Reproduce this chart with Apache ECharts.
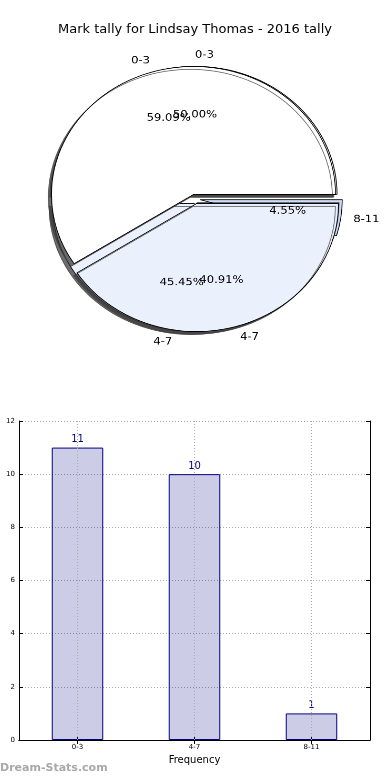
<!DOCTYPE html>
<html>
<head>
<meta charset="utf-8">
<script src="https://cdn.jsdelivr.net/npm/echarts@6/dist/echarts.min.js"></script>
<style>
html,body{margin:0;padding:0;background:#fff;}
#wrap{position:relative;width:390px;height:780px;overflow:hidden;}
#main{position:absolute;left:0;top:0;width:390px;height:780px;}
#pie{position:absolute;left:0;top:0;width:390px;height:400px;
  transform-origin:195px 199px;transform:scale(1.052,0.948);}
</style>
</head>
<body>
<div id="wrap">
  <div id="main"></div>
  <div id="pie"></div>
</div>
<script>
// ---- data ----
const titleText = 'Mark tally for Lindsay Thomas - 2016 tally';
const categories = ['0-3', '4-7', '8-11'];
const tallyCounts = [11, 10, 1];
const priorCategories = ['0-3', '4-7'];
const priorCounts = [13, 9];
const yTickMax = 12;
const yTickStep = 2;
const xAxisName = 'Frequency';
const watermark = 'Dream-Stats.com';

// ---- styles ----
const FONT = 'DejaVu Sans';
const pieColors = ['#ffffff', '#eaf0fc', '#cddcf8'];
const PIE_CENTER = [195, 199];
const PIE_R = 135;
const EXPLODE = 5;

function pieData(names, vals) {
  return names.map((n, i) => ({
    name: n, value: vals[i], selected: true,
    itemStyle: { color: pieColors[i] }
  }));
}
function ghostData(names, vals) {
  return names.map((n, i) => ({ name: n, value: vals[i], selected: true }));
}
const pctFmt = p => p.percent.toFixed(2) + '%';

function mainPie(names, vals) {
  return {
    type: 'pie',
    center: PIE_CENTER,
    radius: PIE_R,
    startAngle: 0,
    clockwise: false,
    selectedMode: 'multiple',
    selectedOffset: EXPLODE,
    avoidLabelOverlap: false,
    silent: true,
    animation: false,
    itemStyle: {
      borderColor: '#000', borderWidth: 0.8,
      shadowColor: 'rgba(60,60,60,0.75)', shadowBlur: 0,
      shadowOffsetX: -3, shadowOffsetY: 3
    },
    label: {
      show: true, position: 'outside', formatter: '{b}',
      color: '#000', fontFamily: FONT, fontSize: 11,
      distanceToLabelLine: 0
    },
    labelLine: { show: false, length: 12, length2: 0 },
    labelLayout: { hideOverlap: false },
    emphasis: { disabled: true },
    data: pieData(names, vals)
  };
}
function ghostPie(names, vals) {
  return {
    type: 'pie',
    center: PIE_CENTER,
    radius: PIE_R * 1.2,
    startAngle: 0,
    clockwise: false,
    selectedMode: 'multiple',
    selectedOffset: EXPLODE,
    avoidLabelOverlap: false,
    silent: true,
    animation: false,
    z: 5,
    itemStyle: { color: 'rgba(0,0,0,0)', borderWidth: 0 },
    label: {
      show: true, position: 'inside', formatter: pctFmt,
      color: '#000', fontFamily: FONT, fontSize: 11
    },
    labelLine: { show: false },
    labelLayout: { hideOverlap: false },
    emphasis: { disabled: true },
    data: ghostData(names, vals)
  };
}

const gridLine = { type: [1, 2], color: '#aaaaaa', width: 1 };

// ---- bar chart + titles ----
const mainChart = echarts.init(document.getElementById('main'), null, { renderer: 'canvas' });
mainChart.setOption({
  backgroundColor: '#ffffff',
  animation: false,
  title: [
    { text: titleText, left: 'center', top: 23, padding: 0,
      textStyle: { fontFamily: FONT, fontSize: 13, fontWeight: 'normal', color: '#000' } },
    { text: watermark, left: 0, top: 763, padding: 0,
      textStyle: { fontFamily: FONT, fontSize: 11, fontWeight: 'bold', color: '#a8a8a8' } }
  ],
  grid: { left: 19, right: 20, top: 421, bottom: 40, containLabel: false },
  xAxis: [
    {
      type: 'category', data: categories, position: 'bottom',
      name: xAxisName, nameLocation: 'middle', nameGap: 15,
      nameTextStyle: { fontFamily: FONT, fontSize: 10, color: '#000' },
      axisLine: { lineStyle: { color: '#000', width: 1 } },
      axisTick: { show: true, inside: true, alignWithLabel: true, length: 4, lineStyle: { color: '#000' } },
      axisLabel: { fontFamily: FONT, fontSize: 7, color: '#000', margin: 4 },
      splitLine: { show: false }
    },
    {
      type: 'category', data: categories, position: 'top',
      axisLine: { lineStyle: { color: '#000', width: 1 } },
      axisTick: { show: true, inside: true, alignWithLabel: true, length: 4, lineStyle: { color: '#000' } },
      axisLabel: { show: false },
      splitLine: { show: false }
    }
  ],
  yAxis: [
    {
      type: 'value', min: 0, max: yTickMax, interval: yTickStep, position: 'left',
      axisLine: { show: true, lineStyle: { color: '#000', width: 1 } },
      axisTick: { show: true, inside: true, length: 4, lineStyle: { color: '#000' } },
      axisLabel: { fontFamily: FONT, fontSize: 7, color: '#000', margin: 4 },
      splitLine: { show: true, lineStyle: gridLine }
    },
    {
      type: 'value', min: 0, max: yTickMax, interval: yTickStep, position: 'right',
      axisLine: { show: true, lineStyle: { color: '#000', width: 1 } },
      axisTick: { show: true, inside: true, length: 4, lineStyle: { color: '#000' } },
      axisLabel: { show: false },
      splitLine: { show: false }
    }
  ],
  series: [
    {
      type: 'bar',
      xAxisIndex: 0, yAxisIndex: 0,
      data: tallyCounts,
      barWidth: '44%',
      silent: true,
      itemStyle: { color: 'rgba(0,0,128,0.2)', borderColor: '#000080', borderWidth: 1 },
      label: { show: true, position: 'top', distance: 3, color: '#000080', fontFamily: FONT, fontSize: 10 },
      markLine: {
        silent: true, symbol: 'none', animation: false,
        label: { show: false },
        lineStyle: gridLine,
        data: categories.map(c => ({ xAxis: c }))
      }
    }
  ]
});

// ---- overlaid pies (elliptical, as in the original figure) ----
const pieChart = echarts.init(document.getElementById('pie'), null, { renderer: 'canvas', devicePixelRatio: 2 });
pieChart.setOption({
  backgroundColor: 'transparent',
  animation: false,
  series: [
    mainPie(categories, tallyCounts),
    mainPie(priorCategories, priorCounts),
    ghostPie(categories, tallyCounts),
    ghostPie(priorCategories, priorCounts)
  ]
});
</script>
</body>
</html>
